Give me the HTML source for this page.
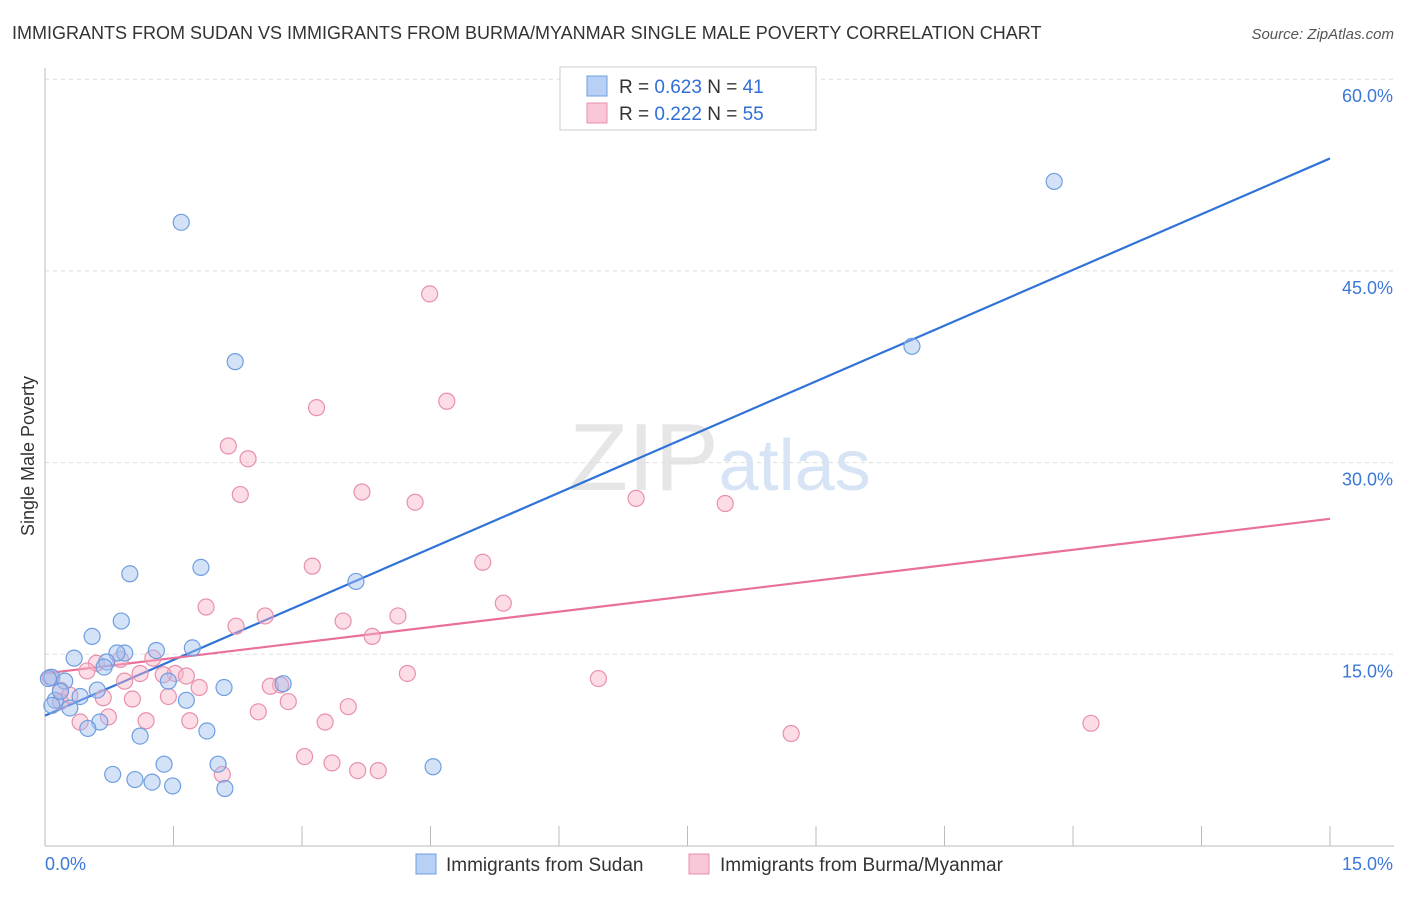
<!DOCTYPE html>
<html><head><meta charset="utf-8"><style>
body{margin:0;background:#fff;font-family:"Liberation Sans",sans-serif;}
svg text{font-family:"Liberation Sans",sans-serif;}
</style></head><body>
<svg id="chart" width="1406" height="892" viewBox="0 0 1406 892" xmlns="http://www.w3.org/2000/svg">
<text x="12" y="39" font-size="18" fill="#333">IMMIGRANTS FROM SUDAN VS IMMIGRANTS FROM BURMA/MYANMAR SINGLE MALE POVERTY CORRELATION CHART</text>
<text x="1394" y="39" font-size="15" fill="#555" text-anchor="end" font-style="italic">Source: ZipAtlas.com</text>
<text x="720" y="490" font-size="96" fill="#e6e6e6" text-anchor="middle" font-family="Liberation Serif"><tspan>ZIP</tspan><tspan fill="#d6e4f5" font-family="Liberation Sans" font-size="72">atlas</tspan></text>
<text transform="translate(34,456) rotate(-90)" font-size="18" fill="#333" text-anchor="middle">Single Male Poverty</text>
<g id="grid"></g><g id="ticks"></g><g id="lines"></g><g id="pts"></g>
<g>
<rect x="560" y="67" width="256" height="63" fill="#fff" stroke="#ccc"/>
<rect x="587" y="76" width="20" height="20" fill="#b8d0f5" stroke="#6f9ee0"/>
<rect x="587" y="103" width="20" height="20" fill="#f8c6d6" stroke="#e890ac"/>
<text x="619" y="93" font-size="19" fill="#333">R = <tspan fill="#2f6fd6">0.623</tspan>   N =  <tspan fill="#2f6fd6">41</tspan></text>
<text x="619" y="120" font-size="19" fill="#333">R = <tspan fill="#2f6fd6">0.222</tspan>   N = <tspan fill="#2f6fd6">55</tspan></text>
</g>
<g>
<rect x="416" y="854" width="20" height="20" fill="#b8d0f5" stroke="#6f9ee0"/>
<text x="446" y="871" font-size="19" fill="#333">Immigrants from Sudan</text>
<rect x="689" y="854" width="20" height="20" fill="#f8c6d6" stroke="#e890ac"/>
<text x="720" y="871" font-size="19" fill="#333">Immigrants from Burma/Myanmar</text>
</g>
</svg>
<script>
const xTicks=["0.0%","15.0%"];
const yTicks=[15,30,45,60];
const sudanX=[11.78,10.12,1.59,2.22,3.63,1.82,0.99,0.89,0.55,0.34,1.30,1.72,0.93,0.84,0.72,0.69,0.08,0.23,0.61,0.41,0.12,0.29,1.65,2.09,2.78,1.44,1.89,1.11,0.64,0.50,1.39,2.02,4.53,0.79,1.05,1.25,1.49,2.10,0.04,0.08,0.18];
const sudanY=[52.0,39.1,48.8,37.9,20.7,21.8,21.3,17.6,16.4,14.7,15.3,15.5,15.1,15.1,14.4,14.0,13.2,12.9,12.2,11.7,11.4,10.8,11.4,12.4,12.7,12.9,9.0,8.6,9.7,9.2,6.4,6.4,6.2,5.6,5.2,5.0,4.7,4.5,13.1,11.0,12.1];
const burmaX=[4.49,4.69,3.17,2.14,2.37,2.28,3.70,4.32,6.90,7.94,5.11,3.12,5.35,1.88,2.57,2.23,3.48,4.12,3.82,1.26,0.88,0.60,1.52,1.65,1.11,0.49,1.38,4.23,6.46,2.75,2.63,1.80,0.93,0.18,0.68,1.44,2.84,1.02,2.49,3.54,1.18,1.69,0.74,0.41,3.27,12.21,8.71,3.03,3.35,3.65,3.89,2.07,0.06,0.18,0.29];
const burmaY=[43.2,34.8,34.3,31.3,30.3,27.5,27.7,26.9,27.2,26.8,22.2,21.9,19.0,18.7,18.0,17.2,17.6,18.0,16.4,14.7,14.6,14.3,13.5,13.3,13.5,13.7,13.4,13.5,13.1,12.6,12.5,12.4,12.9,12.2,11.6,11.7,11.3,11.5,10.5,10.9,9.8,9.8,10.1,9.7,9.7,9.6,8.8,7.0,6.5,5.9,5.9,5.6,13.2,11.3,11.8];
const sudanTrend=[10.2,53.8];
const burmaTrend=[13.5,25.6];
const NS="http://www.w3.org/2000/svg";
const X0=45,X1=1330,Y0=846,YPX=191.7/15;
function sx(v){return X0+(X1-X0)*v/15;}
function sy(v){return Y0-v*YPX;}
function mk(tag,attrs,parent){const e=document.createElementNS(NS,tag);for(const k in attrs)e.setAttribute(k,attrs[k]);parent.appendChild(e);return e;}
const grid=document.getElementById('grid'),ticks=document.getElementById('ticks'),lines=document.getElementById('lines'),pts=document.getElementById('pts');
yTicks.forEach(t=>{
const l=mk('line',{x1:X0,x2:1394,y1:sy(t),y2:sy(t),stroke:'#ddd','stroke-dasharray':'4,4'},grid);


const tx=mk('text',{x:1393,y:sy(t)+23,'font-size':18,fill:'#3b78d8','text-anchor':'end'},ticks);
tx.textContent=t.toFixed(1)+'%';


});
const ax=mk('line',{x1:X0,x2:X0,y1:68,y2:Y0,stroke:'#bbb'},grid);


const bx=mk('line',{x1:X0,x2:1394,y1:Y0,y2:Y0,stroke:'#bbb'},grid);


for(let i=0;i<=10;i++){const t=mk('line',{x1:sx(i*1.5),x2:sx(i*1.5),y1:826,y2:Y0,stroke:'#bbb'},grid);

}
[[X0+0,'start',xTicks[0]],[1393,'end',xTicks[1]]].forEach(a=>{const t=mk('text',{x:a[0],y:870,'font-size':18,fill:'#3b78d8','text-anchor':a[1]},ticks);t.textContent=a[2];

});
function pointsOf(xs,ys,fill,stroke,name){xs.forEach((v,i)=>{const c=mk('circle',{cx:sx(v),cy:sy(ys[i]),r:8,fill:fill,stroke:stroke,'stroke-width':1.2},pts);

});}
pointsOf(burmaX,burmaY,'rgba(248,180,200,0.45)','#e890ac','burma-point');
pointsOf(sudanX,sudanY,'rgba(160,190,240,0.45)','#6f9ee0','sudan-point');
const l1=mk('line',{x1:sx(0),y1:sy(sudanTrend[0]),x2:sx(15),y2:sy(sudanTrend[1]),stroke:'#2f72d8','stroke-width':2.2},lines);


const l2=mk('line',{x1:sx(0),y1:sy(burmaTrend[0]),x2:sx(15),y2:sy(burmaTrend[1]),stroke:'#e8709a','stroke-width':2.2},lines);


</script>
</body></html>
